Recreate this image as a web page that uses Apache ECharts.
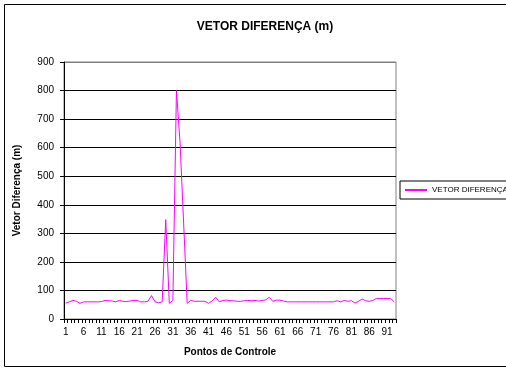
<!DOCTYPE html>
<html>
<head>
<meta charset="utf-8">
<script src="https://cdn.jsdelivr.net/npm/echarts@6/dist/echarts.min.js"></script>
<style>html,body{margin:0;padding:0;background:#fff;}#c{width:506px;height:371px;}</style>
</head>
<body>
<div id="c"></div>
<script>
const titleText = 'VETOR DIFERENÇA (m)';
const seriesName = 'VETOR DIFERENÇA';
const xName = 'Pontos de Controle';
const yName = 'Vetor Diferença (m)';
const categories = Array.from({length: 93}, (_, i) => String(i + 1));
const values = [
  56, 60, 65, 62, 55, 60, 60, 60, 60, 60,
  61, 65, 64, 63, 60, 65, 62, 61, 63, 65,
  65, 60, 60, 62, 82, 60, 57, 60, 348, 55,
  65, 800, 620, 340, 55, 65, 62, 62, 62, 62,
  55, 63, 76, 60, 65, 66, 64, 64, 62, 62,
  64, 65, 64, 65, 63, 65, 67, 76, 62, 66,
  66, 63, 60, 60, 60, 60, 60, 60, 60, 60,
  60, 60, 60, 60, 60, 60, 64, 60, 65, 62,
  64, 56, 62, 70, 64, 62, 65, 72, 72, 72,
  72, 72, 60
];
const yTicks = [0, 100, 200, 300, 400, 500, 600, 700, 800, 900];

const chart = echarts.init(document.getElementById('c'));
const font = 'Arial, "Liberation Sans", sans-serif';
chart.setOption({
  animation: false,
  backgroundColor: '#fff',
  textStyle: {fontFamily: font},
  title: {
    text: titleText, left: 260, top: 16, textAlign: 'center',
    textStyle: {fontSize: 12, fontWeight: 'bold', color: '#000', fontFamily: font}
  },
  graphic: [{
    type: 'rect', shape: {x: 4.5, y: 4.5, width: 520, height: 362},
    style: {fill: 'none', stroke: '#000', lineWidth: 1}, silent: true, z: -1
  }],
  legend: {
    left: 400, top: 181, orient: 'vertical',
    borderColor: '#000', borderWidth: 1, padding: [5, 30, 5, 5],
    itemWidth: 22, itemHeight: 2, itemGap: 4, icon: 'rect',
    textStyle: {fontSize: 8, color: '#000', fontFamily: font},
    data: [seriesName]
  },
  grid: {left: 64, right: 110, top: 62, bottom: 52, show: true, borderColor: '#808080', borderWidth: 1, backgroundColor: '#fff'},
  xAxis: {
    type: 'category', data: categories, boundaryGap: true,
    name: xName, nameLocation: 'middle', nameGap: 28,
    nameTextStyle: {fontSize: 10, fontWeight: 'bold', color: '#000', fontFamily: font},
    axisLine: {lineStyle: {color: '#000', width: 1}},
    axisTick: {show: true, interval: 0, length: 4, lineStyle: {color: '#000'}},
    axisLabel: {interval: 4, fontSize: 10, color: '#000', margin: 8, fontFamily: font},
    splitLine: {show: false}
  },
  yAxis: {
    type: 'value', min: yTicks[0], max: yTicks[yTicks.length - 1], interval: 100,
    name: yName, nameLocation: 'middle', nameGap: 42, nameRotate: 90,
    nameTextStyle: {fontSize: 10, fontWeight: 'bold', color: '#000', fontFamily: font},
    axisLine: {show: true, lineStyle: {color: '#000', width: 1}},
    axisTick: {show: true, length: 4, lineStyle: {color: '#000'}},
    axisLabel: {fontSize: 10, color: '#000', margin: 10, fontFamily: font},
    splitLine: {show: true, lineStyle: {color: ['#000','#000','#000','#000','#000','#000','#000','#000','#000','#808080'], width: 1}}
  },
  series: [{
    name: seriesName, type: 'line', data: values,
    symbol: 'none', color: '#FF00FF',
    lineStyle: {color: '#FF00FF', width: 1}
  }]
});
</script>
</body>
</html>
